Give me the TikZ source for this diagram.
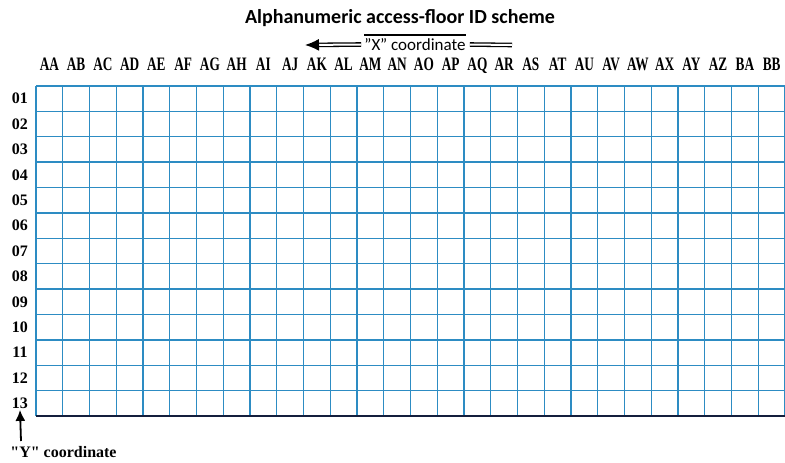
\documentclass[tikz,border=0pt]{standalone}
\usepackage{fontspec}
\usepackage{graphicx}
\setmainfont{Carlito}
\newfontfamily\rowfont{Liberation Serif}
\usetikzlibrary{arrows.meta}
\definecolor{gridblue}{RGB}{45,140,195}
\definecolor{edgenavy}{RGB}{20,30,60}
\newcommand{\narrowlbl}[1]{\scalebox{0.7}[1]{#1}}
\begin{document}
\begin{tikzpicture}[x=1pt,y=-1pt,
  gridline/.style={gridblue, line width=1.4pt},
  collabel/.style={font=\rowfont\bfseries\fontsize{19}{19}\selectfont, inner sep=0pt, anchor=base},
  rowlabel/.style={font=\rowfont\bfseries\fontsize{16}{16}\selectfont, inner sep=0pt},
  dbl/.style={line width=1.3pt, double distance=2pt, double=white}]
\useasboundingbox (0,0) rectangle (785,463);
\fill[white] (0,0) rectangle (785,463);
% grid
\foreach \i in {0,...,28} \draw[gridline] ({36+\i*26.75},86) -- ({36+\i*26.75},416);
\foreach \j in {0,...,13} \draw[gridline] (36,{86+\j*25.385}) -- (785,{86+\j*25.385});
\draw[edgenavy, line width=2pt] (36,416) -- (785,416);
% title
\node[font=\bfseries\fontsize{20}{20}\selectfont, inner sep=0pt] (title) at (400,18) {Alphanumeric access-floor ID scheme};
% column labels
\foreach \l [count=\k] in {AA,AB,AC,AD,AE,AF,AG,AH,AI,AJ,AK,AL,AM,AN,AO,AP,AQ,AR,AS,AT,AU,AV,AW,AX,AY,AZ,BA,BB}
  \node[collabel] (c\l) at ({36+(\k-0.5)*26.75},70) {\narrowlbl{\l}};
% row labels
\foreach \r [count=\k] in {01,02,03,04,05,06,07,08,09,10,11,12,13}
  \node[rowlabel] (r\r) at (20,{86+(\k-0.5)*25.385}) {\r};
% X coordinate
\node[font=\fontsize{17}{17}\selectfont, inner sep=0pt] (xc) at (415,44.5) {"X" coordinate};
\draw[line width=1.8pt] ([yshift=3pt]xc.north west) -- ([yshift=3pt]xc.north east);
\coordinate (xl) at (305,45);
\coordinate (xr) at (512,45);
\draw[dbl, -{Latex[length=14pt,width=12pt]}] ([xshift=-3pt]xc.west) -- (xl);
\draw[dbl] ([xshift=4pt]xc.east) -- (xr);
% Y coordinate
\node[rowlabel] (yc) at (63.5,452) {"Y" coordinate};
\coordinate (ys) at (21,441);
\draw[line width=1.8pt, -{Latex[length=11pt,width=10pt]}] (ys) -- ([yshift=-1pt]r13.south);
\end{tikzpicture}
\end{document}
